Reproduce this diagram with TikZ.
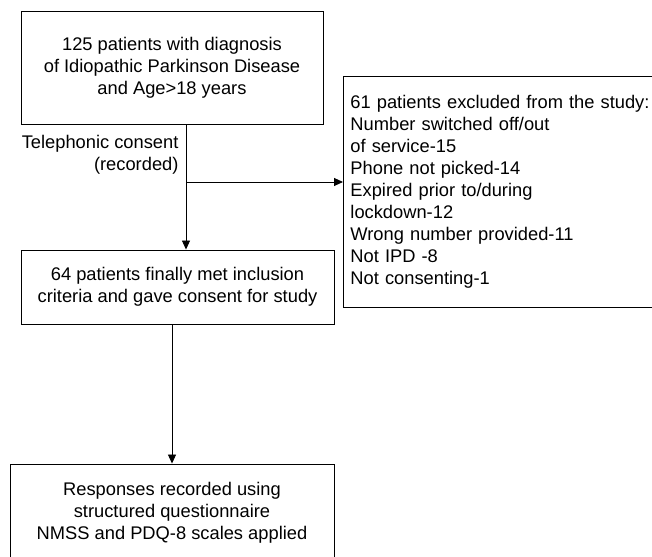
\documentclass[tikz,border=0pt]{standalone}
\usepackage{fontspec}
\setmainfont{Liberation Sans}
\usetikzlibrary{arrows.meta}

\tikzset{
    box/.style={draw, line width=0.9pt, align=center, inner sep=0pt,
        font=\fontsize{18.3}{22}\selectfont},
    arr/.style={line width=0.9pt, -{Triangle[length=9pt,width=8pt]}},
}

\begin{document}
\begin{tikzpicture}[x=1pt,y=1pt]
                \useasboundingbox (0,0) rectangle (652,556);
                % boxes
                \node[box, minimum width=302, minimum height=113] (start) at (172,488.5)
                    {125 patients with diagnosis\\of Idiopathic Parkinson Disease\\and Age>18 years};
                \node[box, minimum width=313, minimum height=74] (met) at (177.5,269)
                    {64 patients finally met inclusion\\criteria and gave consent for study};
                \node[box, minimum width=324, minimum height=98] (resp) at (172,43)
                    {Responses recorded using\\structured questionnaire\\NMSS and PDQ-8 scales applied};
                \node[box, align=left, anchor=west, inner xsep=7pt, text width=308,
                      minimum height=231] (excl) at (343,364.5)
                    {61 patients excluded from the study:\\Number switched off/out\\of service-15\\Phone not picked-14\\Expired prior to/during\\lockdown-12\\Wrong number provided-11\\Not IPD -8\\Not consenting-1};
                % label
                \node[align=right, anchor=east, font=\fontsize{18.3}{22}\selectfont] (tel) at (182,401.5)
                    {Telephonic consent\\(recorded)};
                % arrows
                \coordinate (split) at (186,374);
                \draw[arr] ([xshift=14pt]start.south) -- ([xshift=14pt]start.south |- met.north);
                \draw[arr] (split) -- (split -| excl.west);
                \draw[arr] (resp.north |- met.south) -- (resp.north);
\end{tikzpicture}
\end{document}
